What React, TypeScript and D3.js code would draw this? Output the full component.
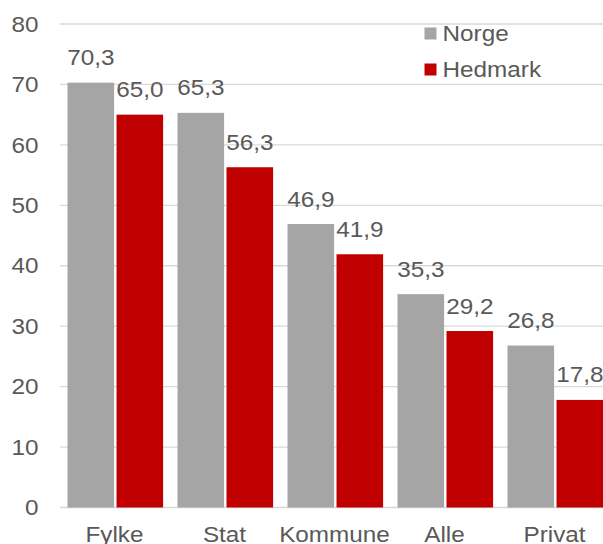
import React from "react";
import * as d3 from "d3";

const categories = ["Fylke", "Stat", "Kommune", "Alle", "Privat"];
const seriesNames = ["Norge", "Hedmark"];
const norge = [70.3, 65.3, 46.9, 35.3, 26.8];
const hedmark = [65.0, 56.3, 41.9, 29.2, 17.8];
const yTicks = [0, 10, 20, 30, 40, 50, 60, 70, 80];
const colors = ["#a5a5a5", "#c00000"];

const W = 603;
const H = 544;
const FONT = "'Liberation Sans', Arial, sans-serif";
const TEXT = "#595959";
const SX = 1.13;

function T(props: { x: number; y: number; anchor?: string; dy?: string; children: React.ReactNode }) {
  return (
    <text
      transform={`translate(${props.x},${props.y}) scale(${SX},1)`}
      dy={props.dy}
      textAnchor={props.anchor || "start"}
      fontSize={21.5}
      fill={TEXT}
    >
      {props.children}
    </text>
  );
}

export default function App() {
  const x = d3.scaleBand<string>().domain(categories).range([60, 610]).paddingInner(0).paddingOuter(0);
  const xs = d3.scaleBand<string>().domain(seriesNames).range([7.5, 105.5]);
  const y = d3.scaleLinear().domain([0, 80]).range([507.5, 24]);
  const fmt = (v: number) => v.toFixed(1).replace(".", ",");
  const series = [norge, hedmark];

  return (
    <svg width={W} height={H} style={{ position: "fixed", left: 0, top: 0, background: "#fff" }} fontFamily={FONT}>
      <rect x={0} y={0} width={W} height={H} fill="#fff" />
      {yTicks.map((t) => (
        <g key={t}>
          <line x1={60} x2={W} y1={y(t)} y2={y(t)} stroke="#d9d9d9" strokeWidth={1.3} />
          <T x={38.5} y={y(t)} dy="0.36em" anchor="end">
            {t}
          </T>
        </g>
      ))}
      {categories.map((c, i) => (
        <g key={c} transform={`translate(${x(c)},0)`}>
          {series.map((s, si) => {
            const bx = xs(seriesNames[si])!;
            const bw = xs.bandwidth() - 2.4;
            return (
              <g key={si}>
                <rect x={bx} y={y(s[i])} width={bw} height={y(0) - y(s[i])} fill={colors[si]} />
                <T x={bx + bw / 2} y={y(s[i]) - 17.5} anchor="middle">
                  {fmt(s[i])}
                </T>
              </g>
            );
          })}
          <T x={x.bandwidth() / 2 - 0.5} y={541.5} anchor="middle">
            {c}
          </T>
        </g>
      ))}
      {seriesNames.map((n, i) => (
        <g key={n} transform={`translate(424.5,${27.5 + i * 36})`}>
          <rect x={0} y={0} width={12} height={12} fill={colors[i]} />
          <T x={18} y={6} dy="0.36em">
            {n}
          </T>
        </g>
      ))}
    </svg>
  );
}
